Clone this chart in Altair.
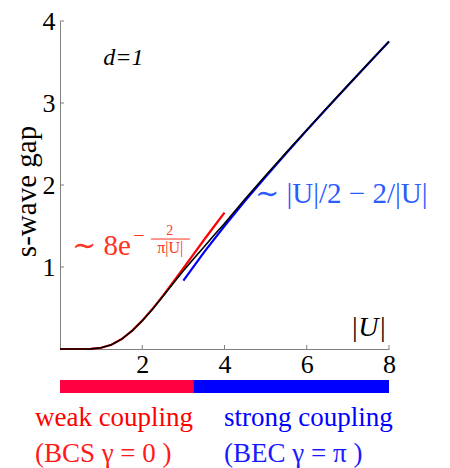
import altair as alt
import pandas as pd

# ---- data ----
U_black = [0, 0.5, 0.75, 1, 1.25, 1.5, 1.75, 2, 2.25, 2.5, 2.75, 3, 3.25, 3.5, 3.75, 4,
           4.5, 5, 5.5, 6, 6.5, 7, 7.5, 8]
gap_black = [0, 0, 0.002, 0.015, 0.052, 0.12, 0.22, 0.345, 0.485, 0.64, 0.80, 0.955, 1.10,
             1.245, 1.39, 1.53, 1.83, 2.115, 2.395, 2.67, 2.945, 3.215, 3.485, 3.75]

U_red = [0, 0.5, 0.75, 1, 1.25, 1.5, 1.75, 2, 2.25, 2.5, 2.75, 3, 3.25, 3.5, 3.75, 4]
gap_red = [0, 0, 0.002, 0.015, 0.052, 0.121, 0.221, 0.346, 0.490, 0.648, 0.815, 0.985,
           1.158, 1.329, 1.497, 1.663]

U_blue = [3, 3.5, 4, 4.5, 5, 5.5, 6, 6.5, 7, 7.5, 8]
gap_blue = [0.833, 1.179, 1.5, 1.806, 2.1, 2.386, 2.667, 2.942, 3.214, 3.483, 3.75]

x_ticks = [2, 4, 6, 8]
y_ticks = [1, 2, 3, 4]

regimes = ["weak", "strong"]
regime_start = [0, 3.24]
regime_end = [3.24, 8]
regime_colors = ["#ff0040", "#0000ff"]

SERIF = "'Liberation Serif', 'Times New Roman', Times, 'DejaVu Serif', serif"
GRAY = "#808080"

xs = alt.Scale(domain=[0, 8], nice=False, zero=False)
ys = alt.Scale(domain=[0, 4], nice=False, zero=False)

AX = alt.Axis(values=x_ticks, ticks=False, grid=False, title=None,
              domainColor=GRAY, domainWidth=1, labelFont=SERIF,
              labelFontSize=26, labelColor="black", labelPadding=2, labelFlush=False)
AY = alt.Axis(values=y_ticks, ticks=False, grid=False, title="s-wave gap",
              domainColor=GRAY, domainWidth=1, labelFont=SERIF,
              labelFontSize=26, labelColor="black", labelPadding=5, labelFlush=False,
              titleFont=SERIF, titleFontSize=29, titleFontWeight="normal",
              titleColor="black", titleAngle=270, titleX=-25, titleY=170,
              titleAlign="center", titleBaseline="alphabetic")

W, H = 329, 328


def X(field):
    return alt.X(field, scale=xs, axis=AX)


def Y(field):
    return alt.Y(field, scale=ys, axis=AY)


black_df = pd.DataFrame({"U": U_black, "gap": gap_black})
red_df = pd.DataFrame({"U": U_red, "gap": gap_red})
blue_df = pd.DataFrame({"U": U_blue, "gap": gap_blue})

black_line = alt.Chart(black_df).mark_line(color="black", strokeWidth=1.6).encode(
    x=X("U:Q"), y=Y("gap:Q"))
red_line = alt.Chart(red_df).mark_line(color="#ff0000", strokeWidth=2.2).encode(
    x=X("U:Q"), y=Y("gap:Q"))
blue_line = alt.Chart(blue_df).mark_line(color="#0000ff", strokeWidth=2.2).encode(
    x=X("U:Q"), y=Y("gap:Q"))

xt = alt.Chart(pd.DataFrame({"v": x_ticks})).mark_rule(color=GRAY, strokeWidth=1).encode(
    x=X("v:Q"), y=alt.value(H), y2=alt.value(H - 4))
yt = alt.Chart(pd.DataFrame({"v": y_ticks})).mark_rule(color=GRAY, strokeWidth=1).encode(
    y=Y("v:Q"), x=alt.value(0), x2=alt.value(4))

bar_df = pd.DataFrame({"r": regimes, "a": regime_start, "b": regime_end, "c": regime_colors})
bars = alt.Chart(bar_df).mark_rect().encode(
    x=X("a:Q"), x2="b:Q",
    y=alt.value(359), y2=alt.value(372),
    color=alt.Color("c:N", scale=None))


def label(text, x, y, size, color, align="left", baseline="alphabetic", style="normal"):
    df = pd.DataFrame({"x": [x], "y": [y], "t": [text]})
    return alt.Chart(df).mark_text(
        font=SERIF, fontSize=size, color=color, align=align, baseline=baseline,
        fontStyle=style).encode(x=X("x:Q"), y=Y("y:Q"), text="t:N")


RED_T = "#ff3322"
texts = [
    label("d=1", 1.05, 3.46, 24, "black", style="italic"),
    label("|U|", 7.93, 0.16, 28, "black", align="right", style="italic"),
    label("∼ 8e", 0.29, 1.15, 29, RED_T),
    label("−", 1.78, 1.38, 20, RED_T, baseline="middle"),
    label("2", 2.67, 1.385, 14, RED_T, align="center"),
    label("π|U|", 2.68, 1.165, 16, RED_T, align="center"),
    label("∼   |U|/2  −  2/|U|", 4.74, 1.78, 29, "#2a5cff"),
    label("weak coupling", -0.61, -0.94, 27, "#ff0000"),
    label("(BCS  γ = 0 )", -0.61, -1.38, 27, "#ff1a1a"),
    label("strong coupling", 3.99, -0.94, 27, "#0000ff"),
    label("(BEC γ = π )", 3.99, -1.38, 27, "#1a1aff"),
]

frac_bar = alt.Chart(pd.DataFrame({"a": [2.21], "b": [3.16], "y": [1.341]})).mark_rule(
    color=RED_T, strokeWidth=1).encode(x=X("a:Q"), x2="b:Q", y=Y("y:Q"))

chart = alt.layer(red_line, blue_line, black_line, xt, yt, bars, frac_bar, *texts).properties(
    width=W, height=H,
    autosize=alt.AutoSizeParams(type="none"),
    padding={"left": 52, "top": 13, "right": 53, "bottom": 119},
).configure_view(stroke="transparent")

chart.save("out.html", embed_options={"renderer": "svg", "actions": False})
